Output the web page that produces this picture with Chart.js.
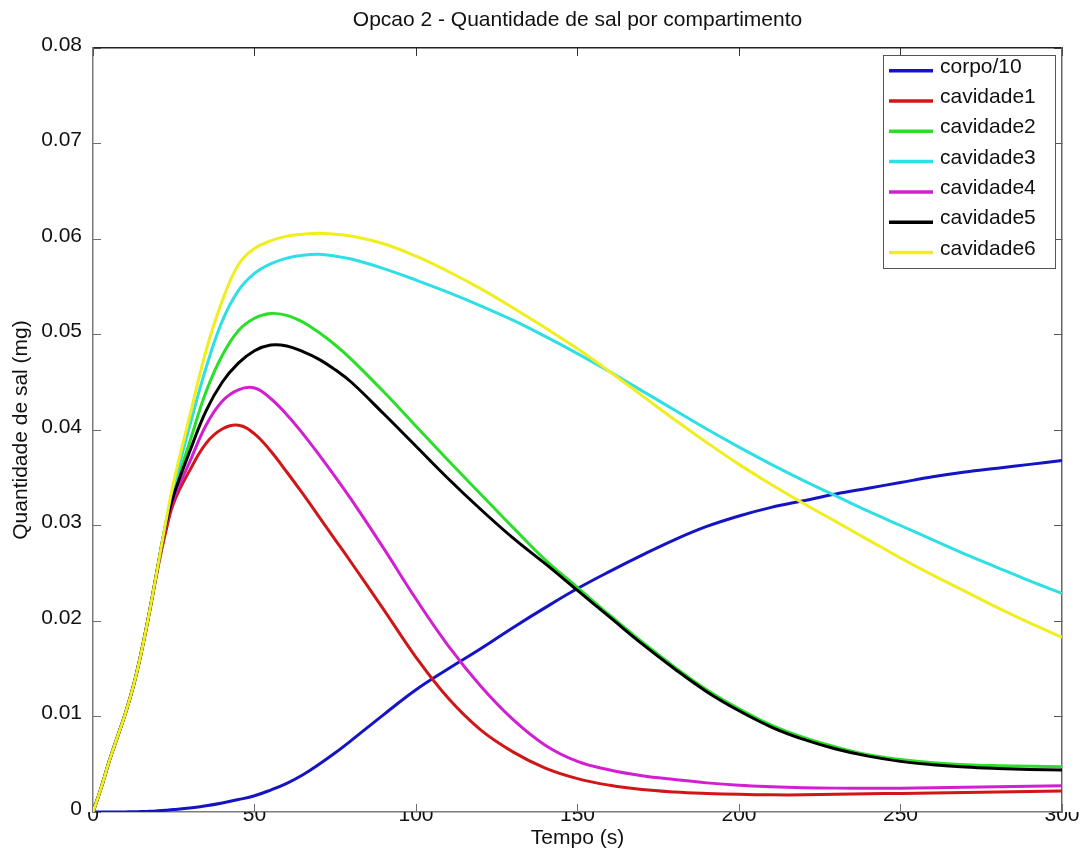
<!DOCTYPE html>
<html>
<head>
<meta charset="utf-8">
<script src="https://cdn.jsdelivr.net/npm/chart.js@4.4.1/dist/chart.umd.min.js"></script>
<style>
  html, body { margin: 0; padding: 0; background: #ffffff; }
  canvas { display: block; }
</style>
</head>
<body>
<canvas id="c" width="1084" height="853"></canvas>
<script>
// ---- data ----
const time = [0,2.5,5,7.5,10,12.5,15,17.5,20,22.5,25,
  30,35,40,45,50,55,60,65,70,75,80,
  90,100,110,120,130,140,150,160,170,180,190,200,210,220,230,240,250,260,270,280,290,300];

const corpo10 = [0,0,0,0,0.00001,0.00002,0.00004,0.00007,0.00012,0.00018,0.00025,
  0.00042,0.00065,0.00095,0.0013,0.0017,0.0023,0.0030,0.0039,0.0050,0.0062,0.0075,
  0.0102,0.0128,0.0150,0.0171,0.0193,0.0214,0.0234,0.0252,0.0269,0.0285,0.0299,0.0310,0.0319,0.0326,0.0333,0.0339,0.0345,0.0351,0.0356,0.0360,0.0364,0.0368];

const cavidade1 = [0,0.0025,0.0053,0.0078,0.0103,0.0132,0.0168,0.0210,0.0254,0.0293,0.0324,
  0.0358,0.0386,0.0401,0.0405,0.0396,0.0378,0.0356,0.0333,0.0309,0.0285,0.0261,
  0.0212,0.0162,0.0119,0.0086,0.0063,0.0046,0.0035,0.0028,0.00235,0.0021,0.00195,0.00185,0.0018,0.0018,0.00185,0.0019,0.00195,0.0020,0.00205,0.0021,0.00215,0.0022];

const cavidade2 = [0,0.0025,0.0053,0.0078,0.0103,0.0132,0.0168,0.0210,0.0256,0.0301,0.0335,
  0.0388,0.0440,0.0478,0.0504,0.0517,0.0522,0.0520,0.0513,0.0502,0.0489,0.0474,
  0.0440,0.0404,0.0368,0.0333,0.0298,0.0264,0.0235,0.0206,0.0178,0.0152,0.0128,0.0108,0.0091,0.0078,0.0068,0.0060,0.0055,0.00515,0.00495,0.00485,0.0048,0.00475];

const cavidade3 = [0,0.0025,0.0053,0.0078,0.0103,0.0132,0.0168,0.0210,0.0256,0.0302,0.0340,
  0.0405,0.0465,0.0514,0.0546,0.0564,0.0574,0.0580,0.0583,0.0584,0.0582,0.0579,
  0.0569,0.0557,0.0544,0.0530,0.0515,0.0498,0.0480,0.0461,0.0441,0.0421,0.0401,0.0382,0.0364,0.0347,0.0331,0.0315,0.0300,0.0285,0.0270,0.0256,0.0242,0.0229];

const cavidade4 = [0,0.0025,0.0053,0.0078,0.0103,0.0132,0.0168,0.0210,0.0255,0.0298,0.0328,
  0.0367,0.0405,0.0430,0.0442,0.0444,0.0433,0.0416,0.0396,0.0374,0.0351,0.0327,
  0.0276,0.0223,0.0174,0.0132,0.0097,0.0070,0.0053,0.0044,0.0038,0.0034,0.00305,0.0028,0.00265,0.00255,0.0025,0.0025,0.0025,0.00255,0.0026,0.00265,0.0027,0.00275];

const cavidade5 = [0,0.0025,0.0053,0.0078,0.0103,0.0132,0.0168,0.0210,0.0256,0.0300,0.0332,
  0.0378,0.0420,0.0450,0.0470,0.0483,0.0489,0.0488,0.0482,0.0474,0.0463,0.0450,
  0.0417,0.0383,0.0349,0.0317,0.0287,0.0260,0.0232,0.0204,0.0176,0.0150,0.0126,0.0106,0.0089,0.0076,0.0066,0.00585,0.0053,0.00495,0.0047,0.00455,0.00445,0.0044];

const cavidade6 = [0,0.0025,0.0053,0.0078,0.0103,0.0132,0.0168,0.0210,0.0256,0.0303,0.0346,
  0.0415,0.0483,0.0535,0.0573,0.0590,0.0598,0.0603,0.0605,0.0606,0.0605,0.0603,
  0.0595,0.0582,0.0566,0.0548,0.0528,0.0507,0.0485,0.0461,0.0436,0.0411,0.0387,0.0364,0.0343,0.0323,0.0304,0.0285,0.0266,0.0248,0.0231,0.0214,0.0198,0.0183];

const seriesLabels = ['corpo/10','cavidade1','cavidade2','cavidade3','cavidade4','cavidade5','cavidade6'];
const seriesValues = [corpo10, cavidade1, cavidade2, cavidade3, cavidade4, cavidade5, cavidade6];
const xTickValues = [0,50,100,150,200,250,300];
const yTickValues = [0,0.01,0.02,0.03,0.04,0.05,0.06,0.07,0.08];

// ---- styling ----
const FONT = '"Liberation Sans", Arial, Helvetica, sans-serif';
const colors = ['#1414c4','#d01616','#2ade2a','#2edfe6','#d21fd2','#000000','#f0ee1e'];

const datasets = seriesValues.map((vals, i) => ({
  label: seriesLabels[i],
  data: vals.map((v, k) => ({ x: time[k], y: v })),
  borderColor: colors[i],
  backgroundColor: colors[i],
  borderWidth: 3,
  pointRadius: 0,
  fill: false,
  tension: 0.4,
  order: seriesValues.length - i
}));

const boxLegend = {
  id: 'boxLegend',
  afterDatasetsDraw(chart, args, o) {
    const ctx = chart.ctx;
    const ca = chart.chartArea;
    const right = ca.right - o.marginRight;
    const left = right - o.width;
    const top = ca.top + o.marginTop;
    ctx.save();
    ctx.fillStyle = '#ffffff';
    ctx.fillRect(left, top, o.width, o.height);
    ctx.strokeStyle = '#555555';
    ctx.lineWidth = 1;
    ctx.strokeRect(Math.round(left) + 0.5, Math.round(top) + 0.5, o.width, o.height);
    ctx.font = o.fontSize + 'px ' + FONT;
    ctx.textBaseline = 'alphabetic';
    ctx.textAlign = 'left';
    chart.data.datasets.forEach((ds, i) => {
      const y = top + o.firstRow + i * o.rowStep;
      ctx.strokeStyle = ds.borderColor;
      ctx.lineWidth = 3.5;
      ctx.beginPath();
      ctx.moveTo(left + o.lineStart, y);
      ctx.lineTo(left + o.lineEnd, y);
      ctx.stroke();
      ctx.fillStyle = '#111111';
      ctx.fillText(ds.label, left + o.textStart, y + 2);
    });
    ctx.restore();
  }
};

const fixedTicks = (vals) => (scale) => { scale.ticks = vals.map(v => ({ value: v })); };
const fmt = (v) => String(Math.round(v * 1000) / 1000);

new Chart(document.getElementById('c'), {
  type: 'line',
  data: { datasets },
  options: {
    responsive: false,
    animation: false,
    devicePixelRatio: 1,
    layout: { padding: { left: 0, right: 22, top: 0, bottom: 0 } },
    plugins: {
      legend: { display: false },
      tooltip: { enabled: false },
      title: {
        display: true,
        fullSize: false,
        text: 'Opcao 2 - Quantidade de sal por compartimento',
        color: '#111111',
        font: { family: FONT, size: 21, weight: 'normal' },
        padding: { top: 8, bottom: 14.8 }
      },
      boxLegend: {
        marginRight: 7, marginTop: 7, width: 172, height: 213,
        firstRow: 15.7, rowStep: 30.3, lineStart: 6, lineEnd: 50, textStart: 57, fontSize: 21
      }
    },
    scales: {
      x: {
        type: 'linear', position: 'bottom', min: 0, max: 300,
        afterBuildTicks: fixedTicks(xTickValues),
        afterFit: (s) => { s.height = 41; },
        ticks: { padding: -1, color: '#111111', font: { family: FONT, size: 21 }, maxRotation: 0, autoSkip: false, callback: fmt },
        grid: { drawOnChartArea: false, drawTicks: true, tickLength: -8, color: '#6e6e6e', lineWidth: 1 },
        border: { display: true, color: '#7a7a7a', width: 1.5 },
        title: { display: true, text: 'Tempo (s)', color: '#111111', font: { family: FONT, size: 21 }, padding: { top: 0, bottom: 2.4 } }
      },
      x2: {
        type: 'linear', position: 'top', min: 0, max: 300,
        afterBuildTicks: fixedTicks(xTickValues),
        afterFit: (s) => { s.height = 0; },
        ticks: { display: false },
        grid: { drawOnChartArea: false, drawTicks: true, tickLength: -8, color: '#333333', lineWidth: 1 },
        border: { display: true, color: '#222222', width: 1.5 }
      },
      y: {
        type: 'linear', position: 'left', min: 0, max: 0.08,
        afterBuildTicks: fixedTicks(yTickValues),
        afterFit: (s) => { s.width = 93; },
        ticks: { padding: 19, labelOffset: -3, color: '#111111', font: { family: FONT, size: 21 }, autoSkip: false, callback: fmt },
        grid: { drawOnChartArea: false, drawTicks: true, tickLength: -8, color: '#6e6e6e', lineWidth: 1 },
        border: { display: true, color: '#7a7a7a', width: 1.5 },
        title: { display: true, text: 'Quantidade de sal (mg)', color: '#111111', font: { family: FONT, size: 21 }, padding: { top: 8.4, bottom: 0 } }
      },
      y2: {
        type: 'linear', position: 'right', min: 0, max: 0.08,
        afterBuildTicks: fixedTicks(yTickValues),
        afterFit: (s) => { s.width = 0; },
        ticks: { display: false },
        grid: { drawOnChartArea: false, drawTicks: true, tickLength: -8, color: '#555555', lineWidth: 1 },
        border: { display: true, color: '#666666', width: 1.5 }
      }
    }
  },
  plugins: [boxLegend]
});
</script>
</body>
</html>
